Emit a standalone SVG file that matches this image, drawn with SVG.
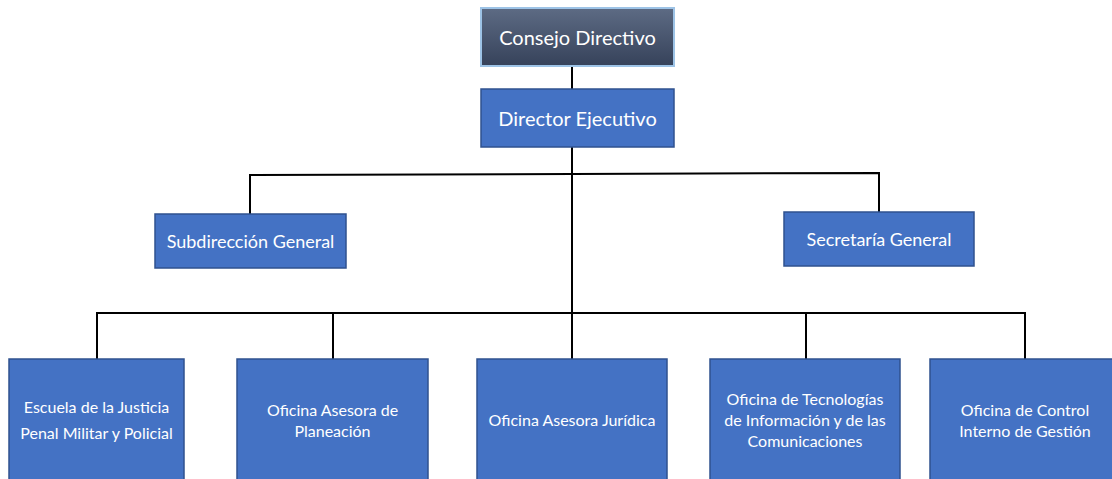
<svg xmlns="http://www.w3.org/2000/svg" width="1112" height="479" viewBox="0 0 1112 479">
<defs>
<linearGradient id="dark" x1="0" y1="0" x2="0" y2="1">
<stop offset="0" stop-color="#5d6b84"/>
<stop offset="1" stop-color="#36425a"/>
</linearGradient>
</defs>
<style>
.box{fill:#4472c4;stroke:#2f528f;stroke-width:1.5}
.top{fill:url(#dark);stroke:#9dc3e6;stroke-width:2}
.t{fill:#ffffff;font-family:Lato,"Open Sans",sans-serif;text-anchor:middle}
.big{font-size:20px}
.mid{font-size:18px}
.sm{font-size:16px}
.ln{stroke:#000;stroke-width:2;fill:none}
</style>
<rect width="1112" height="479" fill="#ffffff"/>
<g id="connectors">
<path class="ln" d="M572 66 V89"/>
<path class="ln" d="M572 147 V360"/>
<path class="ln" d="M250 214 V175 L879 173 V212"/>
<path class="ln" d="M97 359 V313 H1025 V359"/>
<path class="ln" d="M333 313 V359"/>
<path class="ln" d="M806 313 V359"/>
</g>
<g id="consejo">
<rect class="top" x="481" y="8" width="193" height="58"/>
<text class="t big" x="577.5" y="45">Consejo Directivo</text>
</g>
<g id="director">
<rect class="box" x="481" y="89" width="193" height="58"/>
<text class="t big" x="577.5" y="126">Director Ejecutivo</text>
</g>
<g id="subdireccion">
<rect class="box" x="155" y="214" width="191" height="54"/>
<text class="t mid" x="250.5" y="248">Subdirección General</text>
</g>
<g id="secretaria">
<rect class="box" x="784" y="212" width="190" height="54"/>
<text class="t mid" x="879" y="246">Secretaría General</text>
</g>
<g id="escuela">
<rect class="box" x="9" y="359" width="175" height="125"/>
<text class="t sm" x="96.5" y="413">Escuela de la Justicia</text>
<text class="t sm" x="96.5" y="439">Penal Militar y Policial</text>
</g>
<g id="planeacion">
<rect class="box" x="237" y="359" width="191" height="125"/>
<text class="t sm" x="332.5" y="416">Oficina Asesora de</text>
<text class="t sm" x="332.5" y="437">Planeación</text>
</g>
<g id="juridica">
<rect class="box" x="477" y="359" width="190" height="125"/>
<text class="t sm" x="572" y="426">Oficina Asesora Jurídica</text>
</g>
<g id="tecnologias">
<rect class="box" x="710" y="359" width="190" height="125"/>
<text class="t sm" x="805" y="405">Oficina de Tecnologías</text>
<text class="t sm" x="805" y="426">de Información y de las</text>
<text class="t sm" x="805" y="447">Comunicaciones</text>
</g>
<g id="control">
<rect class="box" x="930" y="359" width="190" height="125"/>
<text class="t sm" x="1025" y="416">Oficina de Control</text>
<text class="t sm" x="1025" y="437">Interno de Gestión</text>
</g>
</svg>
